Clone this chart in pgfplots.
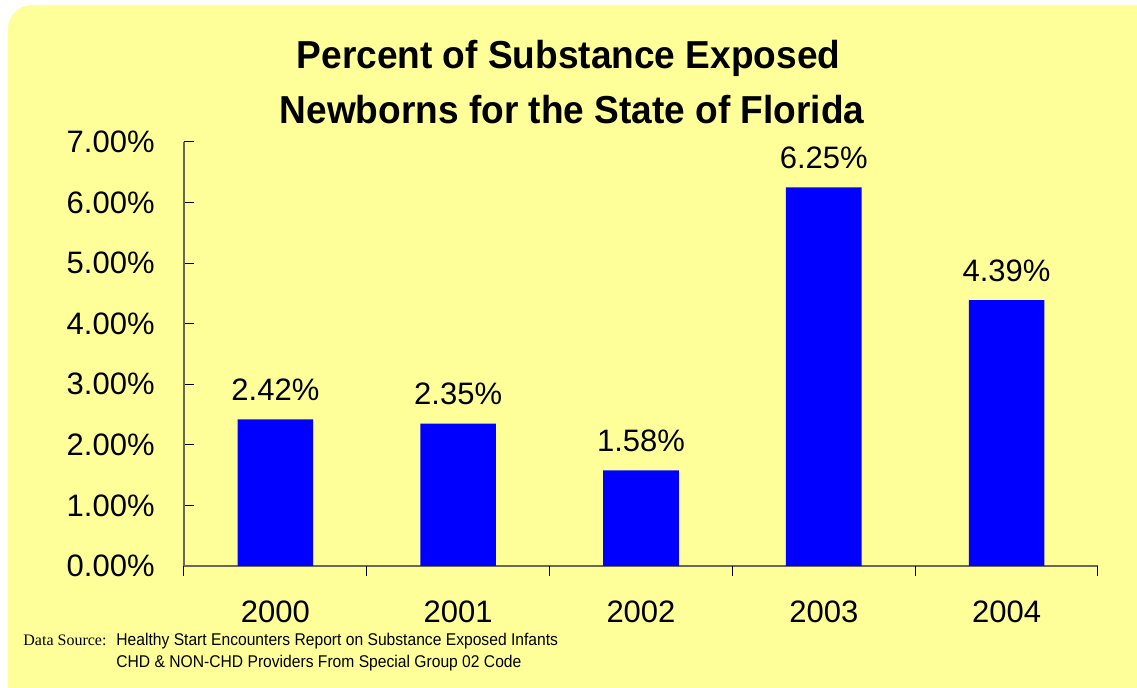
\documentclass[border=0pt]{standalone}
\usepackage{pgfplots}
\pgfplotsset{compat=1.18}
\usepackage{fontspec}
\setmainfont{Liberation Sans}
\newfontfamily\timesfont{Liberation Serif}
\newfontfamily\narrowfont{Liberation Sans}[FakeStretch=0.92]
\newfontfamily\titlefont{Liberation Sans}[FakeStretch=0.95]
\definecolor{bgyellow}{RGB}{255,255,153}
\definecolor{barblue}{RGB}{0,0,255}
\definecolor{axisgray}{RGB}{105,105,85}
\begin{document}
\begin{tikzpicture}
\useasboundingbox (0,0) rectangle (568.5pt,344pt);
\clip (0,0) rectangle (568.5pt,344pt);
\fill[white] (0,0) rectangle (568.5pt,344pt);
\fill[bgyellow, rounded corners=12pt] (4pt,-12pt) rectangle (582pt,341.5pt);
\node[anchor=base, inner sep=0pt, font=\titlefont\fontsize{19.5}{23}\selectfont\bfseries] at (284.25pt,309.5pt) {Percent of Substance Exposed};
\node[anchor=base, inner sep=0pt, font=\titlefont\fontsize{19.5}{23}\selectfont\bfseries] at (286pt,282pt) {Newborns for the State of Florida};
\begin{axis}[
  at={(92pt,61pt)}, anchor=south west,
  scale only axis, width=457pt, height=212pt,
  xmin=-0.5, xmax=4.5, ymin=0, ymax=7,
  axis lines=left,
  axis line style={-, draw=axisgray, line width=0.6pt},
  clip=false,
  ybar, bar width=37.8pt,
  xtick={0,1,2,3,4},
  xticklabels={2000,2001,2002,2003,2004},
  ytick={0,1,2,3,4,5,6,7},
  tick align=inside, major tick length=5pt,
  xtick style={draw=none},
  ytick style={draw=black, line width=0.5pt},
  /pgf/number format/assume math mode=true,
  yticklabel={\pgfmathprintnumber[fixed,fixed zerofill,precision=2]{\tick}\%},
  ticklabel style={font=\fontsize{15.5}{18}\selectfont},
  xticklabel style={anchor=north, inner sep=0pt, yshift=-17pt},
  yticklabel style={anchor=east, inner sep=0pt, xshift=-14.5pt},
  nodes near coords={\pgfmathprintnumber[fixed,fixed zerofill,precision=2]{\pgfplotspointmeta}\%},
  every node near coord/.append style={anchor=base, inner sep=0pt, yshift=9.5pt, font=\fontsize{15.5}{18}\selectfont, text=black},
]
\addplot[fill=barblue, draw=none] coordinates {(0,2.42) (1,2.35) (2,1.58) (3,6.25) (4,4.39)};
\draw[black, line width=0.5pt] (axis cs:-0.5,0) -- ([yshift=-5pt]axis cs:-0.5,0);
\draw[black, line width=0.5pt] (axis cs:0.5,0) -- ([yshift=-5pt]axis cs:0.5,0);
\draw[black, line width=0.5pt] (axis cs:1.5,0) -- ([yshift=-5pt]axis cs:1.5,0);
\draw[black, line width=0.5pt] (axis cs:2.5,0) -- ([yshift=-5pt]axis cs:2.5,0);
\draw[black, line width=0.5pt] (axis cs:3.5,0) -- ([yshift=-5pt]axis cs:3.5,0);
\draw[black, line width=0.5pt] (axis cs:4.5,0) -- ([yshift=-5pt]axis cs:4.5,0);
\end{axis}
\node[anchor=base west, inner sep=0pt, font=\timesfont\fontsize{8}{10}\selectfont] at (11.5pt,21pt) {Data Source:};
\node[anchor=base west, inner sep=0pt, font=\narrowfont\fontsize{8.5}{10}\selectfont] at (58pt,21pt) {Healthy Start Encounters Report on Substance Exposed Infants};
\node[anchor=base west, inner sep=0pt, font=\narrowfont\fontsize{8.5}{10}\selectfont] at (58pt,10pt) {CHD \& NON-CHD Providers From Special Group 02 Code};
\end{tikzpicture}
\end{document}
